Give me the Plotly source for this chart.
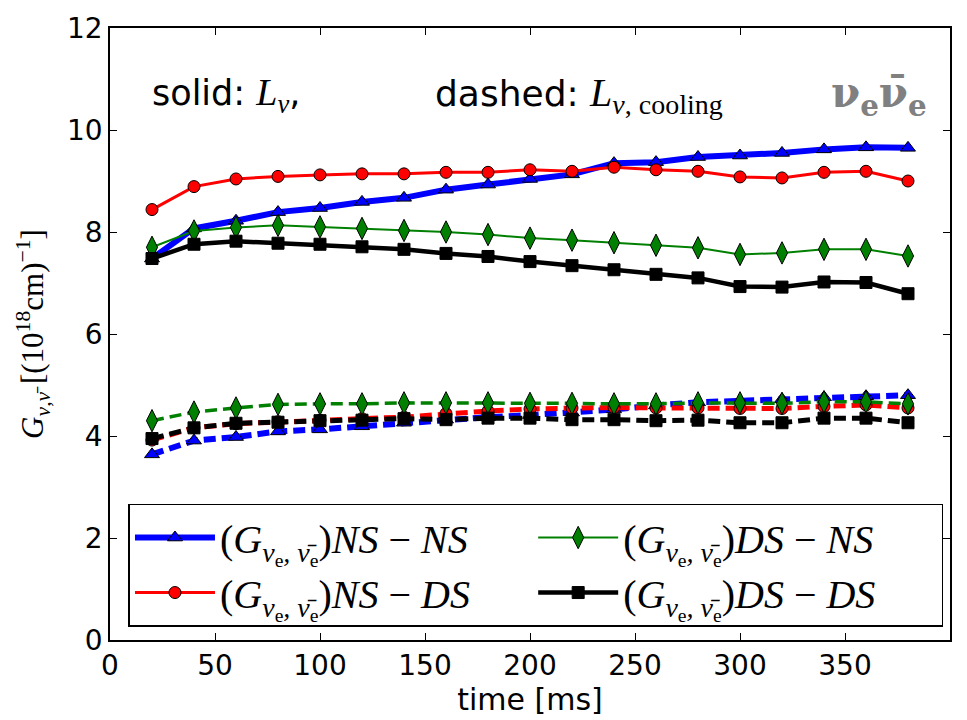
import plotly.graph_objects as go

# ---------------- data ----------------
time_ms = [20, 40, 60, 80, 100, 120, 140, 160, 180, 200, 220, 240, 260, 280, 300, 320, 340, 360, 380]

# solid: L_nu
ns_ns_solid = [7.48, 8.07, 8.22, 8.39, 8.47, 8.59, 8.67, 8.83, 8.93, 9.04, 9.13, 9.35, 9.37, 9.47, 9.50, 9.55, 9.62, 9.66, 9.65]
ns_ds_solid = [8.44, 8.89, 9.04, 9.09, 9.12, 9.14, 9.14, 9.17, 9.17, 9.22, 9.19, 9.27, 9.22, 9.19, 9.08, 9.06, 9.17, 9.19, 9.00]
ds_ns_solid = [7.70, 8.02, 8.09, 8.13, 8.10, 8.07, 8.03, 8.00, 7.95, 7.88, 7.84, 7.79, 7.74, 7.69, 7.56, 7.59, 7.66, 7.66, 7.53]
ds_ds_solid = [7.48, 7.76, 7.82, 7.78, 7.76, 7.71, 7.66, 7.58, 7.52, 7.42, 7.34, 7.26, 7.17, 7.10, 6.93, 6.92, 7.02, 7.01, 6.79]

# dashed: L_nu,cooling
ns_ns_dash = [3.64, 3.91, 3.98, 4.09, 4.13, 4.19, 4.26, 4.32, 4.37, 4.41, 4.46, 4.52, 4.60, 4.66, 4.69, 4.72, 4.76, 4.78, 4.80]
ns_ds_dash = [3.92, 4.16, 4.24, 4.28, 4.31, 4.34, 4.37, 4.44, 4.49, 4.53, 4.55, 4.56, 4.55, 4.55, 4.54, 4.54, 4.58, 4.61, 4.55]
ds_ns_dash = [4.30, 4.47, 4.55, 4.62, 4.63, 4.63, 4.65, 4.65, 4.65, 4.64, 4.64, 4.63, 4.63, 4.65, 4.65, 4.64, 4.67, 4.67, 4.63]
ds_ds_dash = [3.95, 4.16, 4.25, 4.27, 4.30, 4.31, 4.34, 4.32, 4.35, 4.35, 4.32, 4.32, 4.30, 4.31, 4.26, 4.26, 4.35, 4.35, 4.26]

x_ticks = [0, 50, 100, 150, 200, 250, 300, 350, 400]
y_ticks = [0, 2, 4, 6, 8, 10, 12]

GSUB = "(<i>G</i><sub><i>ν</i><sub>e</sub><i>, ν̄</i><sub>e</sub></sub>)"
names = {
    "nsns": GSUB + "<i>NS</i> − <i>NS</i>",
    "nsds": GSUB + "<i>NS</i> − <i>DS</i>",
    "dsns": GSUB + "<i>DS</i> − <i>NS</i>",
    "dsds": GSUB + "<i>DS</i> − <i>DS</i>",
}

styles = {
    "nsns": dict(color="#0000ff", width=6, dwidth=6, symbol="triangle-up", size=13, rank=1),
    "nsds": dict(color="#ff0000", width=3, dwidth=5, symbol="circle", size=12, rank=3),
    "dsns": dict(color="#008000", width=2, dwidth=3.5, symbol="diamond-tall", size=16, rank=2),
    "dsds": dict(color="#000000", width=4.5, dwidth=5, symbol="square", size=12, rank=4),
}

series = [
    ("nsns", ns_ns_solid, ns_ns_dash),
    ("nsds", ns_ds_solid, ns_ds_dash),
    ("dsns", ds_ns_solid, ds_ns_dash),
    ("dsds", ds_ds_solid, ds_ds_dash),
]

fig = go.Figure()

for key, solid, dash in series:
    st = styles[key]
    fig.add_trace(go.Scatter(
        x=time_ms, y=dash, mode="lines+markers", showlegend=False,
        line=dict(color=st["color"], width=st["dwidth"], dash="12px,6px"),
        marker=dict(symbol=st["symbol"], size=st["size"], color=st["color"],
                    line=dict(color="black", width=1)),
    ))

for key, solid, dash in series:
    st = styles[key]
    fig.add_trace(go.Scatter(
        x=time_ms, y=solid, mode="lines+markers", name=names[key],
        legendrank=st["rank"],
        line=dict(color=st["color"], width=st["width"]),
        marker=dict(symbol=st["symbol"], size=st["size"], color=st["color"],
                    line=dict(color="black", width=1)),
    ))

axis_common = dict(
    showline=True, linecolor="black", linewidth=1.5, mirror="allticks",
    ticks="inside", ticklen=7, tickcolor="black", tickwidth=1,
    showgrid=False, zeroline=False,
    tickfont=dict(family="DejaVu Sans", size=28, color="black"),
)

fig.update_xaxes(range=[0, 400], tickvals=x_ticks, ticktext=[str(v) for v in x_ticks],
                 title=dict(text="time [ms]", font=dict(family="DejaVu Sans", size=30, color="black"),
                            standoff=2),
                 **axis_common)
fig.update_yaxes(range=[0, 12], tickvals=y_ticks, ticktext=[str(v) for v in y_ticks],
                 title=dict(text="<i>G</i><sub><i>ν,ν̄</i></sub> [(10<sup>18</sup>cm)<sup>−1</sup>]",
                            font=dict(family="Liberation Serif", size=31, color="black"),
                            standoff=14),
                 **axis_common)

fig.add_annotation(
    xref="paper", yref="paper", x=0.048, y=0.89, xanchor="left", yanchor="middle",
    text="solid: <span style='font-family:Liberation Serif;font-size:38px'><i>L</i><sub><i>ν</i></sub></span>,",
    showarrow=False, font=dict(family="DejaVu Sans", size=35, color="black"),
)
fig.add_annotation(
    xref="paper", yref="paper", x=0.385, y=0.89, xanchor="left", yanchor="middle",
    text="dashed: <span style='font-family:Liberation Serif;font-size:40px'><i>L</i><sub><i>ν</i>, cooling</sub></span>",
    showarrow=False, font=dict(family="DejaVu Sans", size=36, color="black"),
)
fig.add_annotation(
    xref="paper", yref="paper", x=0.975, y=0.89, xanchor="right", yanchor="middle",
    text="<b>ν<sub>e</sub>ν̄<sub>e</sub></b>",
    showarrow=False, font=dict(family="DejaVu Serif", size=42, color="#808080"),
)

fig.update_layout(
    width=967, height=720,
    margin=dict(l=110, r=17, t=24, b=80),
    paper_bgcolor="white", plot_bgcolor="white",
    legend=dict(
        orientation="h", x=0.022, y=0.022, xanchor="left", yanchor="bottom",
        bordercolor="black", borderwidth=1.5, bgcolor="white",
        font=dict(family="Liberation Serif", size=40, color="black"),
        entrywidth=0.48, entrywidthmode="fraction", itemwidth=80,
        traceorder="normal",
    ),
)

fig.write_html("out.html")
